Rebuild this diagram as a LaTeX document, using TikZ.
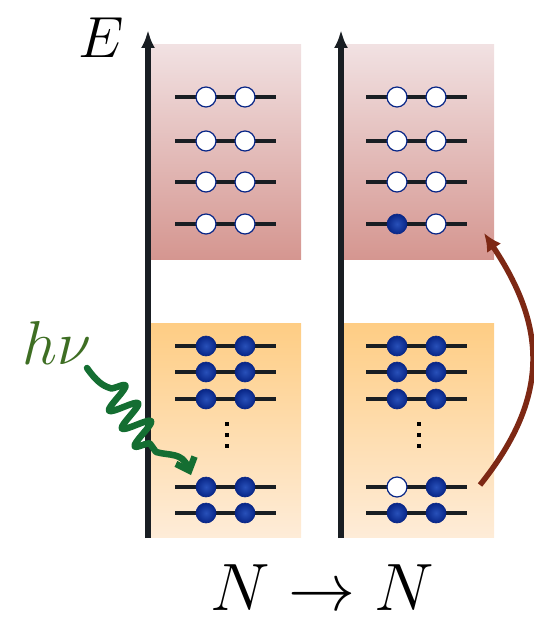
\RequirePackage{fix-cm}
\documentclass[tikz,border=0pt]{standalone}
\usetikzlibrary{decorations.pathmorphing,arrows.meta}
\definecolor{axiscol}{RGB}{25,30,35}
\definecolor{redtop}{RGB}{241,225,226}
\definecolor{redbot}{RGB}{213,150,144}
\definecolor{orgtop}{RGB}{254,205,132}
\definecolor{orgbot}{RGB}{254,236,216}
\definecolor{elblue}{RGB}{8,38,135}
\definecolor{elhi}{RGB}{40,80,185}
\definecolor{hvgreen}{RGB}{62,110,35}
\definecolor{phgreen}{RGB}{20,110,50}
\definecolor{brownarr}{RGB}{125,40,20}
\tikzset{
  axisline/.style={line width=5.5pt,draw=axiscol,-{Latex[length=18pt,width=14pt]}},
  level/.style={line width=4.6pt,draw=axiscol},
  full/.style={circle,minimum size=20pt,inner sep=0pt,inner color=elhi,outer color=elblue,draw=elblue,line width=0.6pt},
  empty/.style={circle,minimum size=20pt,inner sep=0pt,fill=white,draw=elblue,line width=1.2pt},
  vdot/.style={rectangle,fill=black,minimum size=3.5pt,inner sep=0pt}
}
\begin{document}
\begin{tikzpicture}[x=1pt,y=-1pt]
\useasboundingbox (0,0) rectangle (533,617);
% boxes
\foreach \bx in {150,343}{
  \fill[top color=redtop,bottom color=redbot] (\bx,45) rectangle ++(151,214);
  \fill[top color=orgtop,bottom color=orgbot] (\bx,323) rectangle ++(151,214);
}
% axes
\coordinate (la0) at (148,538); \coordinate (la1) at (148,30);
\coordinate (ra0) at (341,538); \coordinate (ra1) at (341,30);
\draw[axisline] (la0) -- (la1);
\draw[axisline] (ra0) -- (ra1);
% levels
\foreach \y in {97,141,182,224,346,372,399,487,513}{
  \draw[level] (175,\y) -- (276,\y);
  \draw[level] (366,\y) -- (467,\y);
}
% left electrons
\foreach \y [count=\i] in {97,141,182,224}{
  \node[empty] (lu\i a) at (206,\y) {};
  \node[empty] (lu\i b) at (245,\y) {};
}
\foreach \y [count=\i] in {346,372,399,487,513}{
  \node[full] (ld\i a) at (206,\y) {};
  \node[full] (ld\i b) at (245,\y) {};
}
% right electrons
\foreach \y [count=\i] in {97,141,182}{
  \node[empty] (ru\i a) at (397,\y) {};
  \node[empty] (ru\i b) at (436,\y) {};
}
\node[full] (ru4a) at (397,224) {};
\node[empty] (ru4b) at (436,224) {};
\foreach \y [count=\i] in {346,372,399}{
  \node[full] (rd\i a) at (397,\y) {};
  \node[full] (rd\i b) at (436,\y) {};
}
\node[empty] (rd4a) at (397,487) {};
\node[full] (rd4b) at (436,487) {};
\node[full] (rd5a) at (397,513) {};
\node[full] (rd5b) at (436,513) {};
% vertical dots
\foreach \y in {424,435,446}{
  \node[vdot] at (227,\y) {};
  \node[vdot] at (419,\y) {};
}
% labels
\node[inner sep=0pt,font=\fontsize{58}{64}\selectfont] (E) at (101,38) {$E$};
\node[inner sep=0pt,font=\fontsize{62}{68}\selectfont,text=hvgreen] (hv) at (57,343) {$h\nu$};
\node[inner sep=0pt,font=\fontsize{67}{72}\selectfont] (NN) at (322,588) {$N\rightarrow N$};
% photon
\coordinate (ph0) at (87,368);
\coordinate (ph1) at (110,388);
\coordinate (ph2) at (156,452);
\coordinate (ph3) at (191,475);
\draw[phgreen,line width=6.5pt,line join=round,line cap=round,-{Straight Barb[length=11pt,width=20pt]}]
  (ph0) .. controls (96,381) and (103,386) .. (ph1)
  decorate[decoration={snake,amplitude=14pt,segment length=22pt}] { -- (ph2) }
  .. controls (170,456) and (182,452) .. (ph3);
% brown arrow
\coordinate (br0) at (480,485);
\coordinate (br1) at (484,233);
\draw[brownarr,line width=5.5pt,-{Latex[length=18pt,width=17pt]}]
  (br0) .. controls (552,395) and (545,325) .. (br1);
\end{tikzpicture}
\end{document}
